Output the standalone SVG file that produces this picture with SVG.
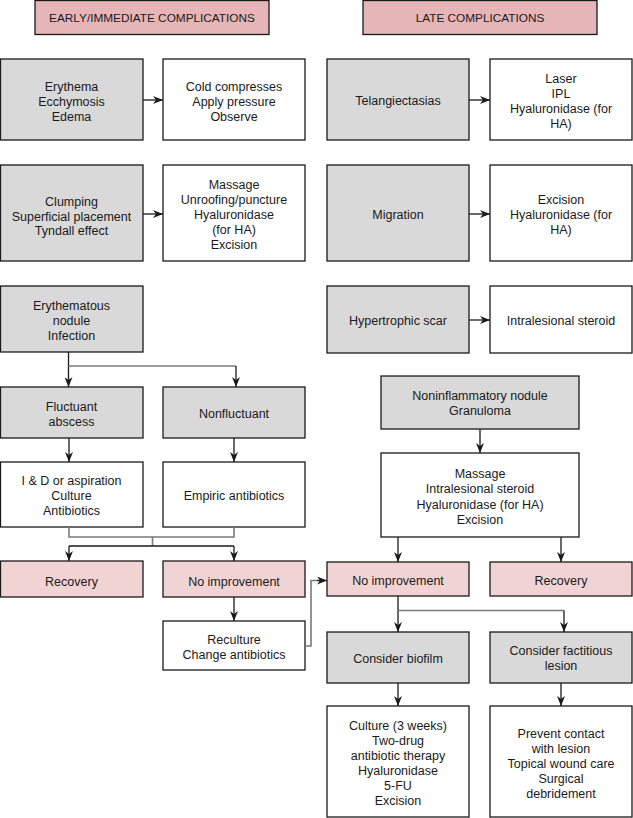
<svg xmlns="http://www.w3.org/2000/svg" width="633" height="818" viewBox="0 0 633 818">
<defs>
<marker id="ah" viewBox="0 0 10 8" refX="10" refY="4" markerWidth="10" markerHeight="8" markerUnits="userSpaceOnUse" orient="auto">
<path d="M0,0 L10,4 L0,8 L3,4 z" fill="#1a1a1a"/>
</marker>
<style>
.n rect{stroke:#1a1a1a;stroke-width:1.3}
.hd{fill:#e6b5b8}
.g{fill:#d9d9d9}
.w{fill:#ffffff}
.p{fill:#f1d3d4}
text{font-family:"Liberation Sans","Noto Sans",Arial,sans-serif;font-size:12.5px;fill:#1a1a1a;text-anchor:middle}
text.h{font-size:11.8px}
.c path{fill:none;stroke:#1a1a1a;stroke-width:1.3}
.c path.gr{stroke:#7a7a7a;stroke-width:1.6}
.c path.a{marker-end:url(#ah)}
</style>
</defs>

<g class="n">
<g id="hdr-early"><rect class="hd" x="35" y="0.5" width="234" height="34"/><text class="h" x="152" y="22">EARLY/IMMEDIATE COMPLICATIONS</text></g>
<g id="hdr-late"><rect class="hd" x="363" y="0.5" width="234" height="34"/><text class="h" x="480" y="22">LATE COMPLICATIONS</text></g>

<g id="n-erythema"><rect class="g" x="0.5" y="59" width="142.5" height="81"/><text x="71.5"><tspan x="71.5" y="90.5">Erythema</tspan><tspan x="71.5" y="105.5">Ecchymosis</tspan><tspan x="71.5" y="120.5">Edema</tspan></text></g>
<g id="n-cold"><rect class="w" x="163" y="59" width="142" height="81"/><text><tspan x="234" y="90.5">Cold compresses</tspan><tspan x="234" y="105.5">Apply pressure</tspan><tspan x="234" y="120.5">Observe</tspan></text></g>
<g id="n-telang"><rect class="g" x="327" y="59" width="142" height="81"/><text x="398" y="104.5">Telangiectasias</text></g>
<g id="n-laser"><rect class="w" x="490" y="59" width="142" height="81"/><text><tspan x="561" y="82.5">Laser</tspan><tspan x="561" y="97.5">IPL</tspan><tspan x="561" y="112.5">Hyaluronidase (for</tspan><tspan x="561" y="127.5">HA)</tspan></text></g>

<g id="n-clumping"><rect class="g" x="0.5" y="165" width="142.5" height="96"/><text><tspan x="71.5" y="206">Clumping</tspan><tspan x="71.5" y="220.5">Superficial placement</tspan><tspan x="71.5" y="235">Tyndall effect</tspan></text></g>
<g id="n-massage1"><rect class="w" x="163" y="165" width="142" height="96"/><text><tspan x="234" y="188.5">Massage</tspan><tspan x="234" y="203.5">Unroofing/puncture</tspan><tspan x="234" y="218.5">Hyaluronidase</tspan><tspan x="234" y="233.5">(for HA)</tspan><tspan x="234" y="248.5">Excision</tspan></text></g>
<g id="n-migration"><rect class="g" x="327" y="165" width="142" height="96"/><text x="398" y="218.5">Migration</text></g>
<g id="n-excision"><rect class="w" x="490" y="165" width="142" height="96"/><text><tspan x="561" y="203.5">Excision</tspan><tspan x="561" y="218.5">Hyaluronidase (for</tspan><tspan x="561" y="233.5">HA)</tspan></text></g>

<g id="n-erynod"><rect class="g" x="0.5" y="286" width="142.5" height="66"/><text><tspan x="71.5" y="309.5">Erythematous</tspan><tspan x="71.5" y="324.5">nodule</tspan><tspan x="71.5" y="339.5">Infection</tspan></text></g>
<g id="n-hyper"><rect class="g" x="327" y="286" width="142" height="67"/><text x="398" y="324.5">Hypertrophic scar</text></g>
<g id="n-intra"><rect class="w" x="490" y="286" width="142" height="67"/><text x="561" y="324.5">Intralesional steroid</text></g>

<g id="n-fluct"><rect class="g" x="0.5" y="387" width="142.5" height="51"/><text><tspan x="71.5" y="410.5">Fluctuant</tspan><tspan x="71.5" y="425.5">abscess</tspan></text></g>
<g id="n-nonfluct"><rect class="g" x="163" y="387" width="142" height="51"/><text x="234" y="417.5">Nonfluctuant</text></g>
<g id="n-nonin"><rect class="g" x="381" y="376" width="198" height="53"/><text><tspan x="480" y="399.5">Noninflammatory nodule</tspan><tspan x="480" y="414.5">Granuloma</tspan></text></g>

<g id="n-id"><rect class="w" x="0.5" y="462" width="142.5" height="65"/><text><tspan x="71.5" y="484.5">I &amp; D or aspiration</tspan><tspan x="71.5" y="499.5">Culture</tspan><tspan x="71.5" y="515">Antibiotics</tspan></text></g>
<g id="n-empiric"><rect class="w" x="163" y="462" width="142" height="65"/><text x="234" y="499.5">Empiric antibiotics</text></g>
<g id="n-massage2"><rect class="w" x="381" y="453" width="198" height="84"/><text><tspan x="480" y="477.5">Massage</tspan><tspan x="480" y="493">Intralesional steroid</tspan><tspan x="480" y="508.5">Hyaluronidase (for HA)</tspan><tspan x="480" y="524">Excision</tspan></text></g>

<g id="n-recov1"><rect class="p" x="0.5" y="561" width="142.5" height="36"/><text x="71.5" y="585.5">Recovery</text></g>
<g id="n-noimp1"><rect class="p" x="163" y="561" width="142" height="36"/><text x="234" y="585.5">No improvement</text></g>
<g id="n-noimp2"><rect class="p" x="327" y="562" width="142" height="34"/><text x="398" y="584.5">No improvement</text></g>
<g id="n-recov2"><rect class="p" x="490" y="562" width="142" height="34"/><text x="561" y="584.5">Recovery</text></g>

<g id="n-reculture"><rect class="w" x="163" y="621" width="142" height="49"/><text><tspan x="234" y="643.5">Reculture</tspan><tspan x="234" y="658.5">Change antibiotics</tspan></text></g>
<g id="n-biofilm"><rect class="g" x="327" y="632" width="142" height="51"/><text x="398" y="662.5">Consider biofilm</text></g>
<g id="n-factitious"><rect class="g" x="490" y="632" width="142" height="51"/><text><tspan x="561" y="654.5">Consider factitious</tspan><tspan x="561" y="669.5">lesion</tspan></text></g>

<g id="n-culture"><rect class="w" x="327" y="706" width="142" height="111"/><text><tspan x="398" y="729.5">Culture (3 weeks)</tspan><tspan x="398" y="744.5">Two-drug</tspan><tspan x="398" y="759.5">antibiotic therapy</tspan><tspan x="398" y="774.5">Hyaluronidase</tspan><tspan x="398" y="789.5">5-FU</tspan><tspan x="398" y="804.5">Excision</tspan></text></g>
<g id="n-prevent"><rect class="w" x="490" y="706" width="142" height="111"/><text><tspan x="561" y="737.5">Prevent contact</tspan><tspan x="561" y="752.5">with lesion</tspan><tspan x="561" y="767.5">Topical wound care</tspan><tspan x="561" y="782.5">Surgical</tspan><tspan x="561" y="797.5">debridement</tspan></text></g>
</g>

<g id="connectors" class="c">
<path class="a" d="M143,100 H163"/>
<path class="a" d="M469,100 H490"/>
<path class="a" d="M143,214 H163"/>
<path class="a" d="M469,214 H490"/>
<path class="a" d="M469,320 H490"/>
<path class="a" d="M68.5,352 V387"/>
<path class="gr" d="M68.5,366 H236"/>
<path class="a" d="M236,366 V387"/>
<path class="a" d="M69,438 V462"/>
<path class="a" d="M234,438 V462"/>
<path class="gr" d="M69,527 V537 H234 V527"/>
<path class="gr" d="M152.5,537 V546"/>
<path d="M69,546 H234"/>
<path class="a" d="M69,546 V561"/>
<path class="a" d="M234,546 V561"/>
<path class="a" d="M234,597 V621"/>
<path class="gr" d="M305,646 H311 V580.5 H318"/>
<path class="a" d="M317,580.5 H327"/>
<path class="a" d="M480,429 V453"/>
<path class="a" d="M398,537 V562"/>
<path class="a" d="M561,537 V562"/>
<path class="a" d="M398,596 V632"/>
<path class="gr" d="M398,610.5 H564"/>
<path class="a" d="M564,610.5 V632"/>
<path class="a" d="M398,683 V706"/>
<path class="a" d="M561,683 V706"/>
</g>
</svg>
